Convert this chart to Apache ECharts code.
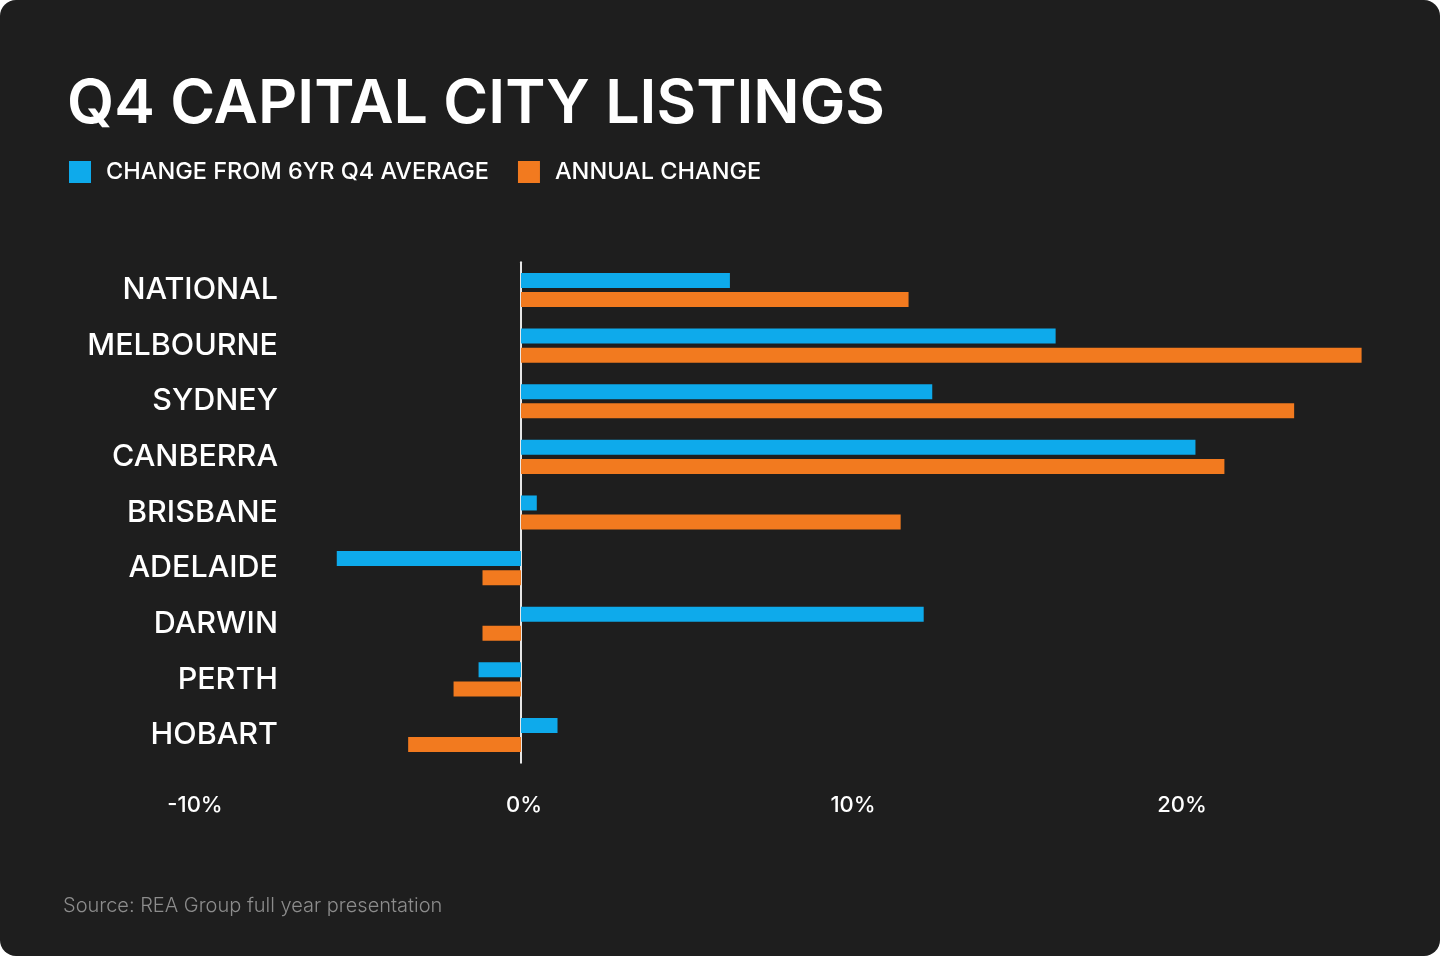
<!DOCTYPE html>
<html>
<head>
<meta charset="utf-8">
<script src="https://cdn.jsdelivr.net/npm/echarts@6/dist/echarts.min.js"></script>
<style>
html,body{margin:0;padding:0;background:#ffffff;}
#wrap{width:1440px;height:956px;background:#1e1e1e;border-radius:16px;overflow:hidden;}
#chart{width:1440px;height:956px;}
</style>
</head>
<body>
<div id="wrap"><div id="chart"></div></div>
<script>
const categories = ['NATIONAL','MELBOURNE','SYDNEY','CANBERRA','BRISBANE','ADELAIDE','DARWIN','PERTH','HOBART'];
const change6yr = [6.35, 16.25, 12.5, 20.5, 0.48, -5.6, 12.24, -1.29, 1.11];
const annualChange = [11.78, 25.55, 23.5, 21.38, 11.54, -1.17, -1.17, -2.05, -3.43];
const seriesNames = ['CHANGE FROM 6YR Q4 AVERAGE','ANNUAL CHANGE'];
const xTicks = [-10, 0, 10, 20];

const FONT = 'Inter, "Noto Sans", sans-serif';
const chart = echarts.init(document.getElementById('chart'), null, {renderer:'canvas'});
chart.setOption({
  backgroundColor: 'transparent',
  animation: false,
  textStyle: {fontFamily: FONT},
  title: {
    text: 'Q4 CAPITAL CITY LISTINGS',
    left: 62, top: 69,
    textStyle: {color:'#ffffff', fontSize:61, fontWeight:600, fontFamily:FONT}
  },
  legend: {
    left: 64, top: 155,
    itemWidth: 22, itemHeight: 22, itemGap: 29,
    icon: 'rect',
    textStyle: {color:'#ffffff', fontSize:23.5, fontWeight:500, fontFamily:FONT, padding:[0,0,0,10]},
    data: seriesNames
  },
  graphic: [{
    type:'text', left: 63, top: 896,
    style:{text:'Source: REA Group full year presentation', fill:'#8c8c8c', font:'300 20px Inter, "Noto Sans", sans-serif'}
  }],
  grid: {left: 192, width: 1184.4, top: 262.2, height: 500.6, containLabel:false, outerBoundsMode:'none'},
  xAxis: {
    type:'value', min:-10, max:26, interval:10,
    axisLine:{show:false}, axisTick:{show:false}, splitLine:{show:false},
    axisLabel:{
      color:'#ffffff', fontSize:22, fontWeight:500, fontFamily:FONT, margin:32,
      padding:[0,0,0,6],
      showMaxLabel:false,
      formatter: v => xTicks.indexOf(v) >= 0 ? v + '%' : ''
    }
  },
  yAxis: {
    type:'category', data: categories, inverse:true,
    axisLine:{show:true, onZero:true, lineStyle:{color:'#e6e6e6', width:2}},
    axisTick:{show:false},
    axisLabel:{color:'#ffffff', fontSize:30.5, fontWeight:500, fontFamily:FONT, margin:-86, padding:[3,0,0,0]}
  },
  series: [
    {name: seriesNames[0], type:'bar', data: change6yr, barWidth:15, barGap:'27%',
     itemStyle:{color:'#0eaaeb'}},
    {name: seriesNames[1], type:'bar', data: annualChange, barWidth:15, barGap:'27%',
     itemStyle:{color:'#f27a1f'}}
  ]
});
</script>
</body>
</html>
